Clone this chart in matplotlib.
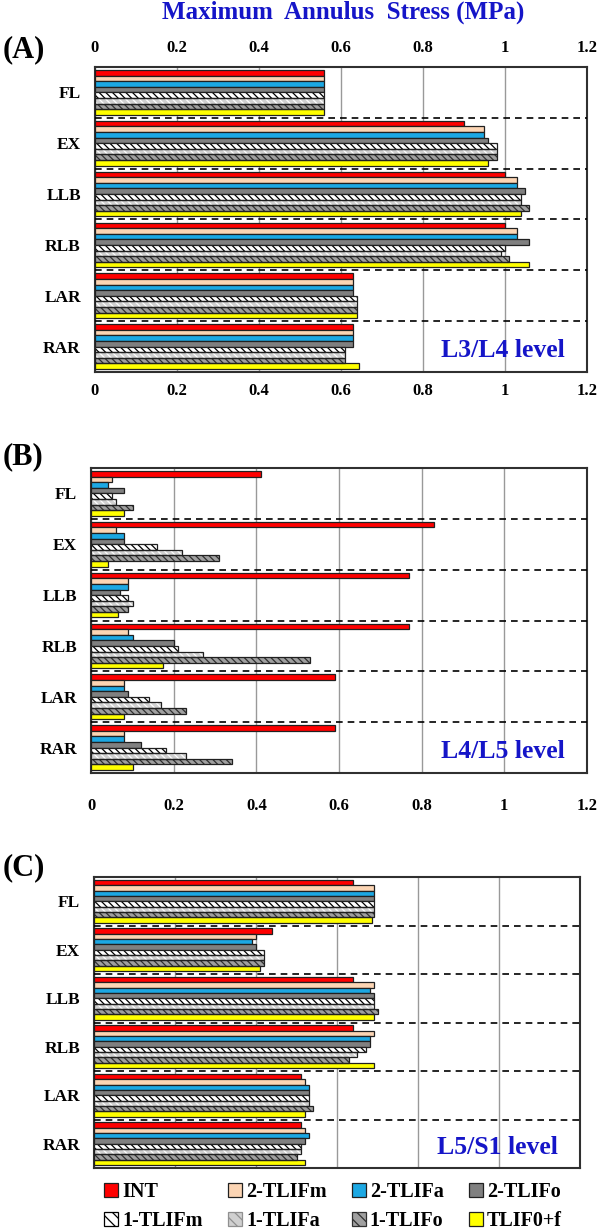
import numpy as np
import matplotlib
matplotlib.use("Agg")
import matplotlib.pyplot as plt
import matplotlib.patches as pat

####################################################################################
# Data

categories = ["FL", "EX", "LLB", "RLB", "LAR", "RAR"]
series = ["INT", "2-TLIFm", "2-TLIFa", "2-TLIFo", "1-TLIFm", "1-TLIFa", "1-TLIFo", "TLIF0+f"]

# L3/L4 level
l34_int   = [0.56, 0.90, 1.00, 1.00, 0.63, 0.63]
l34_2m    = [0.56, 0.95, 1.03, 1.03, 0.63, 0.63]
l34_2a    = [0.56, 0.95, 1.03, 1.03, 0.63, 0.63]
l34_2o    = [0.56, 0.96, 1.05, 1.06, 0.63, 0.63]
l34_1m    = [0.56, 0.98, 1.04, 1.00, 0.64, 0.61]
l34_1a    = [0.56, 0.98, 1.04, 0.99, 0.64, 0.61]
l34_1o    = [0.56, 0.98, 1.06, 1.01, 0.64, 0.61]
l34_f     = [0.56, 0.96, 1.04, 1.06, 0.64, 0.645]

# L4/L5 level
l45_int   = [0.41, 0.83, 0.77, 0.77, 0.59, 0.59]
l45_2m    = [0.05, 0.06, 0.09, 0.09, 0.08, 0.08]
l45_2a    = [0.04, 0.08, 0.09, 0.10, 0.08, 0.08]
l45_2o    = [0.08, 0.08, 0.07, 0.20, 0.09, 0.12]
l45_1m    = [0.05, 0.16, 0.09, 0.21, 0.14, 0.18]
l45_1a    = [0.06, 0.22, 0.10, 0.27, 0.17, 0.23]
l45_1o    = [0.10, 0.31, 0.09, 0.53, 0.23, 0.34]
l45_f     = [0.08, 0.04, 0.065, 0.175, 0.08, 0.10]

# L5/S1 level
l5s1_int  = [0.64, 0.44, 0.64, 0.64, 0.51, 0.51]
l5s1_2m   = [0.69, 0.40, 0.69, 0.69, 0.52, 0.52]
l5s1_2a   = [0.69, 0.39, 0.68, 0.68, 0.53, 0.53]
l5s1_2o   = [0.69, 0.40, 0.69, 0.68, 0.53, 0.52]
l5s1_1m   = [0.69, 0.42, 0.69, 0.67, 0.53, 0.51]
l5s1_1a   = [0.69, 0.42, 0.69, 0.65, 0.53, 0.51]
l5s1_1o   = [0.69, 0.42, 0.70, 0.63, 0.54, 0.50]
l5s1_f    = [0.685, 0.41, 0.69, 0.69, 0.52, 0.52]

panel_data = {
    "L3/L4 level": [l34_int, l34_2m, l34_2a, l34_2o, l34_1m, l34_1a, l34_1o, l34_f],
    "L4/L5 level": [l45_int, l45_2m, l45_2a, l45_2o, l45_1m, l45_1a, l45_1o, l45_f],
    "L5/S1 level": [l5s1_int, l5s1_2m, l5s1_2a, l5s1_2o, l5s1_1m, l5s1_1a, l5s1_1o, l5s1_f],
}

xticks = [0, 0.2, 0.4, 0.6, 0.8, 1.0, 1.2]
xticklabels = ["0", "0.2", "0.4", "0.6", "0.8", "1", "1.2"]

####################################################################################
# Styles

face_cols  = ['#FF0000', '#FCD5B4', '#1CA8E3', '#808080', '#FFFFFF', '#D0D0D0', '#A0A0A0', '#FFFF00']
hatch_cols = [None, None, None, None, '#000000', '#FFFFFF', '#303030', None]
hatch_pat  = '\\\\\\\\\\'

plt.rcParams['font.family'] = ['Liberation Serif', 'DejaVu Serif']
plt.rcParams['font.weight'] = 'bold'
plt.rcParams['hatch.linewidth'] = 0.9

fig = plt.figure(figsize=(6, 12.29), dpi=100)

axes_pos = [[0.158, 0.6973, 0.820, 0.2482],
            [0.152, 0.3710, 0.826, 0.2482],
            [0.157, 0.0496, 0.810, 0.2368]]

panel_labels = ["(A)", "(B)", "(C)"]
label_y = [0.9595, 0.628, 0.294]

bar_h = 0.11
n_ser = len(series)

for p, (level, vals) in enumerate(panel_data.items()):

    ax = fig.add_axes(axes_pos[p])
    ycat = np.arange(len(categories))

    for j in range(n_ser):
        ypos = ycat + (j - (n_ser - 1) / 2) * bar_h
        if hatch_cols[j] is None:
            ax.barh(ypos, vals[j], height=bar_h, color=face_cols[j], edgecolor='#202020', lw=0.9, zorder=3)
        else:
            ax.barh(ypos, vals[j], height=bar_h, color=face_cols[j], edgecolor=hatch_cols[j], hatch=hatch_pat, lw=0, zorder=3)
            ax.barh(ypos, vals[j], height=bar_h, fill=False, edgecolor='#202020', lw=0.9, zorder=4)

    # dashed separators between groups
    for k in range(len(categories) - 1):
        ax.axhline(k + 0.5, color='black', lw=1.2, dashes=(4, 3), zorder=5)

    ax.set_xlim(0, 1.2)
    ax.set_ylim(len(categories) - 0.5, -0.5)
    ax.set_xticks(xticks)
    ax.grid(axis='x', color='#999999', lw=1.0, zorder=0)
    ax.set_axisbelow(True)

    ax.set_yticks(ycat)
    ax.set_yticklabels(categories, fontsize=12.5, fontweight='bold')
    ax.tick_params(axis='y', length=0, pad=10)

    if p == 0:
        ax.set_xticklabels(xticklabels, fontsize=12, fontweight='bold')
        ax.tick_params(axis='x', length=0, pad=8, top=True, labeltop=True)
    elif p == 1:
        ax.set_xticklabels(xticklabels, fontsize=12, fontweight='bold')
        ax.tick_params(axis='x', length=0, pad=18)
    else:
        ax.tick_params(axis='x', length=0, labelbottom=False)

    for s in ax.spines.values():
        s.set_color('#303030')
        s.set_linewidth(1.5)

    ax.text(0.955, 0.07, level, transform=ax.transAxes, ha='right', va='center',
            fontsize=18.5, fontweight='bold', color='#1515C8', zorder=6)

    fig.text(0.005, label_y[p], panel_labels[p], fontsize=22, fontweight='bold', ha='left', va='center')

fig.text(0.572, 0.990, "Maximum  Annulus  Stress (MPa)", fontsize=18, fontweight='bold',
         color='#1515C8', ha='center', va='center')

# legend, filled row by row
handles = []
for j in range(n_ser):
    if hatch_cols[j] is None:
        handles.append(pat.Patch(facecolor=face_cols[j], edgecolor='#202020', lw=0.9))
    else:
        handles.append(pat.Patch(facecolor=face_cols[j], edgecolor=hatch_cols[j] if hatch_cols[j] != '#FFFFFF' else '#909090',
                                 hatch='\\\\\\', lw=0.9))
order = [0, 4, 1, 5, 2, 6, 3, 7]
fig.legend([handles[i] for i in order], [series[i] for i in order], ncol=4,
           loc='center', bbox_to_anchor=(0.555, 0.0185), frameon=False,
           fontsize=14.5, handlelength=0.7, handleheight=0.7, handletextpad=0.2,
           columnspacing=1.25, labelspacing=0.45)

plt.savefig('out.png', dpi=100)
